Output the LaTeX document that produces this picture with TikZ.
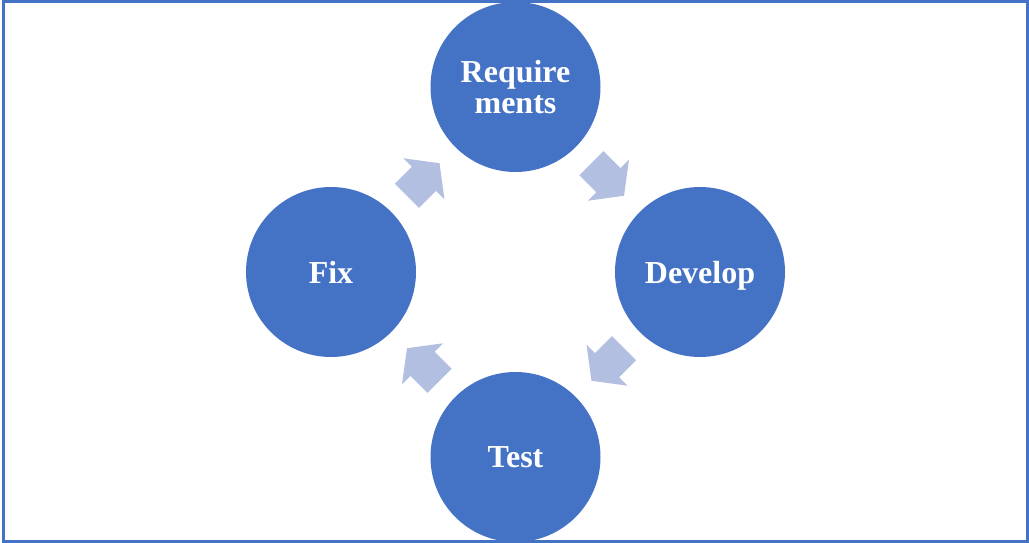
\documentclass[tikz,border=0pt]{standalone}
\usepackage{fontspec}
\setmainfont{Liberation Serif}
\usetikzlibrary{calc}
\definecolor{stagefill}{HTML}{4472C4}
\definecolor{arrowfill}{HTML}{B2BFE1}
\definecolor{framecol}{HTML}{4472C4}
\tikzset{
  stage/.style={circle, fill=stagefill, minimum size=170pt, inner sep=0pt,
    text=white, font=\bfseries\fontsize{32}{31}\selectfont, align=center},
  cyclearrow/.pic={
    \fill[arrowfill] (-23,-17) -- (1,-17) -- (1,-29) -- (23,0) -- (1,29)
      -- (1,17) -- (-23,17) -- cycle;
  }
}
\begin{document}
\begin{tikzpicture}[x=1pt,y=-1pt]
  \useasboundingbox (0,0) rectangle (1029,543);
  % the four stages of the cycle
  \node[stage] (req)  at (515.5,87)  {Require\\ments};
  \node[stage, text depth=0pt] (dev)  at (700,272) {Develop};
  \node[stage] (test) at (515.5,457) {Test};
  \node[stage] (fix)  at (331,272)   {Fix};
  % block arrows between consecutive stages
  \path ($(req)!0.5!(dev)$)  pic[rotate=-45]  {cyclearrow};
  \path ($(dev)!0.5!(test)$) pic[rotate=-135] {cyclearrow};
  \path ($(test)!0.5!(fix)$) pic[rotate=135]  {cyclearrow};
  \path ($(fix)!0.5!(req)$)  pic[rotate=45]   {cyclearrow};
  % outer frame
  \draw[framecol, line width=3pt] (3,1.5) rectangle (1027.5,541.5);
\end{tikzpicture}
\end{document}
